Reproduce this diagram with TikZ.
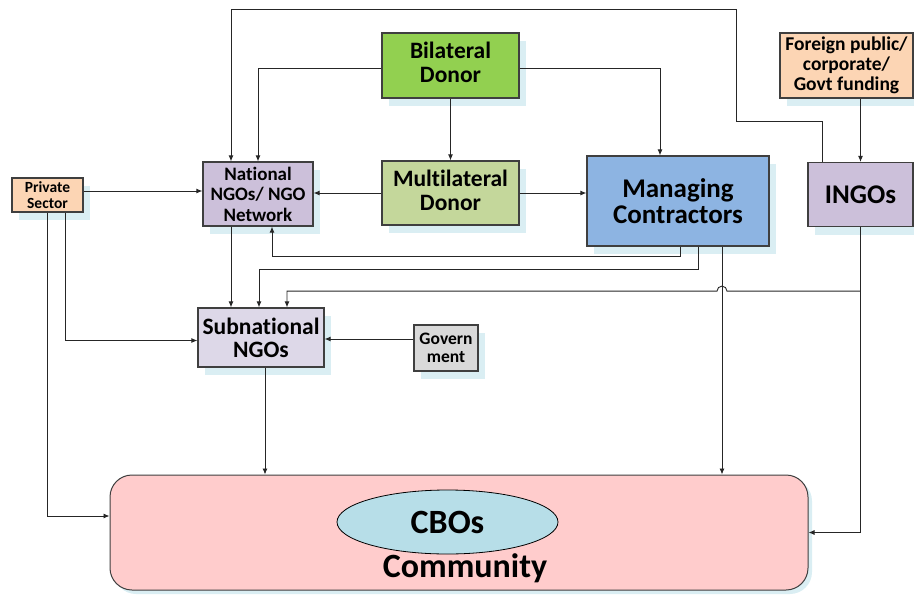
\documentclass[tikz,border=0pt]{standalone}
\usepackage{fontspec}
\setmainfont{Carlito}[Ligatures=NoCommon]
\usepackage{xcolor}
\usepackage{tikz}
\usetikzlibrary{calc, shapes.geometric, shadows, arrows.meta}

\definecolor{bilgreen}{HTML}{92D050}
\definecolor{mulgreen}{HTML}{C4D79B}
\definecolor{ngopurple}{HTML}{CCC0DA}
\definecolor{subpurple}{HTML}{DDD8E8}
\definecolor{mgrblue}{HTML}{8DB4E2}
\definecolor{peach}{HTML}{FCD5B4}
\definecolor{govgray}{HTML}{D9D9D9}
\definecolor{compink}{HTML}{FFCCCC}
\definecolor{cbocyan}{HTML}{B7DEE8}
\definecolor{shadowblue}{HTML}{DAEEF3}
\definecolor{edgegray}{HTML}{3F3F3F}

\begin{document}
\begin{tikzpicture}[x=1pt, y=-1pt, >={Latex[length=6pt, width=5pt]},
    actor/.style={draw=edgegray, line width=1.2pt, align=center, inner sep=0pt,
        drop shadow={shadow xshift=7pt, shadow yshift=-8pt, fill=shadowblue, opacity=1}},
    flow/.style={->, draw=black!85, line width=0.9pt}]
                \useasboundingbox (0,0) rectangle (914,595);

                % 1. Các khối
                \node[actor, fill=bilgreen, minimum width=137pt, minimum height=65pt, text depth=6pt,
                    font=\bfseries\fontsize{23.5}{24}\selectfont] (bil) at (450.5,65.5) {Bilateral\\Donor};
                \node[actor, fill=mulgreen, minimum width=137pt, minimum height=64pt, text depth=6pt,
                    font=\bfseries\fontsize{23.5}{24}\selectfont] (mul) at (450.5,193) {Multilateral\\Donor};
                \node[actor, fill=ngopurple, minimum width=110pt, minimum height=64pt,
                    font=\bfseries\fontsize{19}{20.5}\selectfont] (nat) at (258,194) {National\\NGOs/ NGO\\Network};
                \node[actor, fill=peach, minimum width=71pt, minimum height=34pt,
                    font=\bfseries\fontsize{15.5}{15.5}\selectfont] (priv) at (47.5,195) {Private\\Sector};
                \node[actor, fill=subpurple, minimum width=126pt, minimum height=59pt,
                    font=\bfseries\fontsize{23.5}{23}\selectfont] (sub) at (261,337.5) {Subnational\\NGOs};
                \node[actor, fill=mgrblue, minimum width=182pt, minimum height=90pt,
                    font=\bfseries\fontsize{27}{26.5}\selectfont] (mgr) at (678,201) {Managing\\Contractors};
                \node[actor, fill=ngopurple, minimum width=105pt, minimum height=64pt,
                    font=\bfseries\fontsize{27}{27}\selectfont] (ingo) at (860.5,194.5) {INGOs};
                \node[actor, fill=peach, minimum width=133pt, minimum height=65pt,
                    font=\bfseries\fontsize{19.5}{20}\selectfont] (for) at (846.5,65.5) {Foreign public/\\corporate/\\Govt funding};
                \node[actor, fill=govgray, minimum width=64pt, minimum height=46pt,
                    font=\bfseries\fontsize{17.5}{18}\selectfont] (gov) at (446,348) {Govern\\ment};

                % 2. Cộng đồng
                \node[draw=edgegray, line width=1pt, fill=compink, rounded corners=22pt,
                    minimum width=698pt, minimum height=115pt,
                    drop shadow={shadow xshift=4pt, shadow yshift=-4pt, fill=shadowblue, opacity=1}]
                    (com) at (459,532.5) {};
                \node[ellipse, draw=black, line width=0.8pt, fill=cbocyan, minimum width=221pt,
                    minimum height=64pt, font=\bfseries\fontsize{34}{34}\selectfont] (cbo) at (447.5,522) {CBOs};
                \node[font=\bfseries\fontsize{34}{34}\selectfont, inner sep=0pt] (comtxt) at (465,568) {Community};

                % 3. Các mũi tên
                \coordinate (mgrc) at ([xshift=44pt]mgr.south);
                \coordinate (subc) at ([xshift=4pt]sub.south);
                \coordinate (govc) at ([yshift=9pt]gov.west);
                \draw[flow] ([yshift=-3pt]bil.west) -| (nat.north);
                \draw[flow] ([yshift=-3pt]bil.east) -| ([xshift=-18pt]mgr.north);
                \draw[flow] (bil.south) -- (mul.north);
                \draw[flow] (mul.west) -- (mul.west -| nat.east);
                \draw[flow] (mul.east) -- (mul.east -| mgr.west);
                \draw[flow] ([yshift=4pt]priv.east) -- ([yshift=4pt]priv.east -| nat.west);
                \draw[flow] ([xshift=18pt]priv.south) |- ([yshift=-3pt]sub.west);
                \draw[flow] (priv.south) |- ([yshift=16.5pt]com.west);
                \draw[flow] ([xshift=-27pt]nat.south) -- ([xshift=-30pt]sub.north);
                \draw[flow] ([xshift=2pt]mgr.south) -- ++(0,10) -| ([xshift=14pt]nat.south);
                \draw[flow] ([xshift=20pt]mgr.south) -- ++(0,23) -| ([xshift=-2pt]sub.north);
                \draw[flow] (mgrc) -- (mgrc |- com.north);
                \draw[flow] ([xshift=-38pt]ingo.north) -- ++(0,-40) -| (736,9) -| ([xshift=-27pt]nat.north);
                \draw[flow] (ingo.north |- for.south) -- (ingo.north);
                \draw[flow] (ingo.south) -- ++(0,64) coordinate (turn)
                    -- ($(mgrc |- turn)+(5,0)$) arc[start angle=0, end angle=180, radius=5pt]
                    -| ([xshift=26pt]sub.north);
                \draw[flow] (turn) |- (com.east);
                \draw[flow] (subc) -- (subc |- com.north);
                \draw[flow] (govc) -- (govc -| sub.east);
            \end{tikzpicture}
\end{document}
